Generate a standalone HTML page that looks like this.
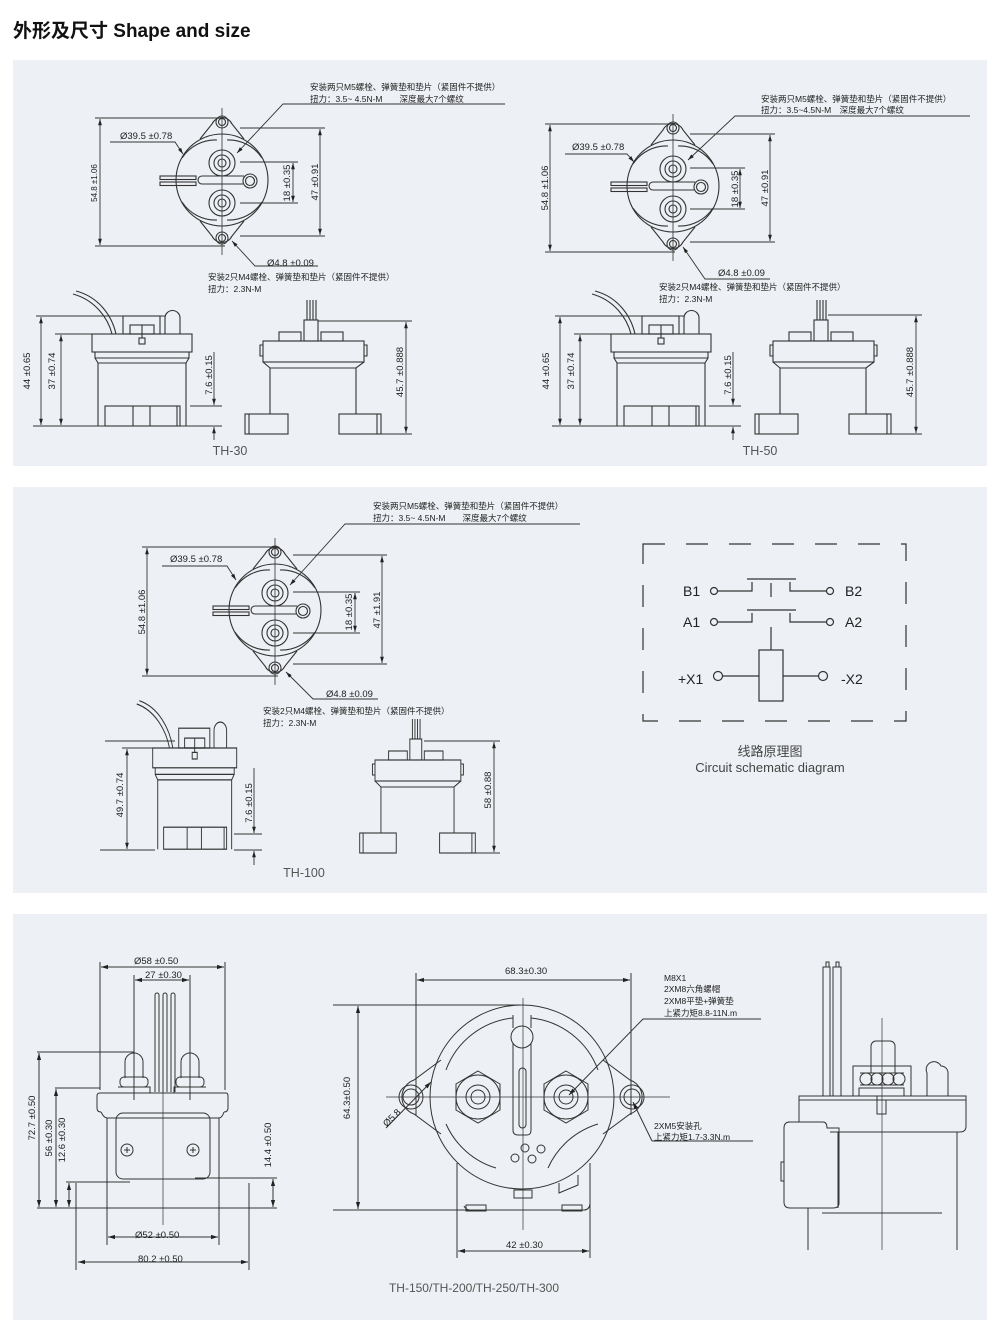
<!DOCTYPE html>
<html><head><meta charset="utf-8"><style>
html,body{margin:0;padding:0;background:#fff;}
body{width:1000px;height:1331px;position:relative;overflow:hidden;font-family:"Liberation Sans","Noto Sans CJK SC",sans-serif;}
svg{position:absolute;left:0;top:0;}
text{font-family:"Liberation Sans","Noto Sans CJK SC",sans-serif;fill:#222;}
.s{font-size:8.5px;}
.d{font-size:9.5px;}
</style></head><body>
<svg width="1000" height="1331" viewBox="0 0 1000 1331" xmlns="http://www.w3.org/2000/svg">
<defs>
<marker id="a" viewBox="0 0 10 10" refX="10" refY="5" markerWidth="7" markerHeight="7" orient="auto-start-reverse"><path d="M0,2 L10,5 L0,8 z" fill="#222"/></marker>
<g id="top" fill="none" stroke="#333" stroke-width="1.1">
  <circle r="46"/>
  <path d="M-40,-22 A40,40 0 0 1 -5,-40 M5,-40 A40,40 0 0 1 40,-22 M-40,22 A40,40 0 0 0 -5,40 M5,40 A40,40 0 0 0 40,22"/>
  <path d="M-22,-41 L-10,-56 A11,11 0 0 1 10,-56 L22,-41"/>
  <path d="M-22,41 L-10,56 A11,11 0 0 0 10,56 L22,41"/>
  <circle cy="-58" r="6"/><circle cy="-58" r="3.5"/>
  <circle cy="58" r="6"/><circle cy="58" r="3.5"/>
  <circle cy="-17" r="13"/><circle cy="-17" r="8"/><circle cy="-17" r="4"/>
  <circle cy="23" r="13"/><circle cy="23" r="8"/><circle cy="23" r="4"/>
  <path d="M-20,-4 H22 M-20,4 H21 M-20,-4 A4,4 0 0 0 -20,4"/>
  <circle cx="28" cy="1" r="7"/><circle cx="28" cy="1" r="4.5"/>
  <rect x="-62" y="-4" width="36" height="3.5"/><rect x="-62" y="2" width="36" height="3.5"/>
  <path d="M0,-72 V75" stroke-width="0.8"/>
</g>
<g id="sideL" fill="none" stroke="#333" stroke-width="1.1">
  <path d="M73,294 C95,300 108,318 112,334"/><path d="M76,291 C99,297 112,316 116,334"/>
  <rect x="123" y="316" width="37" height="18"/><rect x="130" y="325" width="24" height="9"/>
  <path d="M142,325 V338"/><rect x="139" y="338" width="6" height="6"/>
  <path d="M165,334 V318 A7.5,7.5 0 0 1 180,318 V334"/>
  <rect x="92" y="334" width="100" height="18"/>
  <path d="M95,352 V358 H189 V352 M95,358 L98,363 H186 L189,358"/>
  <path d="M98,363 V426 M186,363 V426"/>
  <rect x="105" y="406" width="75" height="20"/><path d="M133,406 V426 M150,406 V426 M177,406 V426"/>
</g>
<g id="sideR" fill="none" stroke="#333" stroke-width="1.1">
  <path d="M307,300 V320 M310,300 V320 M313,300 V320 M316,300 V320"/>
  <rect x="304" y="320" width="14" height="21"/>
  <rect x="279" y="332" width="22" height="9"/><rect x="321" y="332" width="22" height="9"/>
  <rect x="263" y="341" width="101" height="21"/>
  <path d="M263,345 H260 V356 H263 M364,345 H367 V356 H364"/>
  <path d="M263,362 L270,368 H356 L364,362"/>
  <path d="M270,368 V414 M356,368 V414"/>
  <rect x="245" y="414" width="43" height="20"/><rect x="339" y="414" width="42" height="20"/>
  <path d="M249,414 V434 M377,414 V434"/>
</g>
</defs>

<text x="13" y="37" style="font-size:19px;font-weight:bold;fill:#111">外形及尺寸 Shape and size</text>

<rect x="13" y="60" width="974" height="406" fill="#edf0f4"/>
<rect x="13" y="487" width="974" height="406" fill="#edf0f4"/>
<rect x="13" y="914" width="974" height="406" fill="#edf0f4"/>

<g stroke="#333" stroke-width="0.9" fill="none">
<!-- TH-30 top -->
<use href="#top" x="222" y="180"/>
<path d="M95,118 H225 M95,246 H225"/><path d="M100,119 V245" marker-start="url(#a)" marker-end="url(#a)"/>
<path d="M240,128 H325 M240,236 H325"/><path d="M320,129 V235" marker-start="url(#a)" marker-end="url(#a)"/>
<path d="M240,162 H298 M240,203 H298"/><path d="M293,163 V202" marker-start="url(#a)" marker-end="url(#a)"/>
<path d="M110,142 H175 L183,154" marker-end="url(#a)"/>
<path d="M505,104 H283 L237,153" marker-end="url(#a)"/>
<path d="M318,266 H255 L232,241" marker-end="url(#a)"/>
<!-- TH-30 sides -->
<use href="#sideL"/><use href="#sideR"/>
<path d="M36,316 H165 M55,334 H120 M33,426 H222 M190,406 H222"/>
<path d="M41,317 V425" marker-start="url(#a)" marker-end="url(#a)"/>
<path d="M61,335 V425" marker-start="url(#a)" marker-end="url(#a)"/>
<path d="M214,352 V405" marker-end="url(#a)"/><path d="M214,440 V427" marker-end="url(#a)"/>
<path d="M318,321 H412 M381,434 H412"/><path d="M406,322 V433" marker-start="url(#a)" marker-end="url(#a)"/>

<!-- TH-50 top -->
<use href="#top" x="673" y="186"/>
<path d="M545,124 H675 M545,252 H675"/><path d="M550,125 V251" marker-start="url(#a)" marker-end="url(#a)"/>
<path d="M690,134 H775 M690,242 H775"/><path d="M770,135 V241" marker-start="url(#a)" marker-end="url(#a)"/>
<path d="M690,168 H745 M690,209 H745"/><path d="M740,169 V208" marker-start="url(#a)" marker-end="url(#a)"/>
<path d="M565,154 H627 L634,162" marker-end="url(#a)"/>
<path d="M970,116 H735 L688,160" marker-end="url(#a)"/>
<path d="M770,279 H705 L683,247" marker-end="url(#a)"/>
<!-- TH-50 sides -->
<use href="#sideL" x="519"/><use href="#sideR" x="510"/>
<path d="M555,316 H684 M574,334 H639 M552,426 H741 M709,406 H741"/>
<path d="M560,317 V425" marker-start="url(#a)" marker-end="url(#a)"/>
<path d="M580,335 V425" marker-start="url(#a)" marker-end="url(#a)"/>
<path d="M733,352 V405" marker-end="url(#a)"/><path d="M733,440 V427" marker-end="url(#a)"/>
<path d="M828,315 H922 M891,434 H922"/><path d="M916,316 V433" marker-start="url(#a)" marker-end="url(#a)"/>

<!-- TH-100 top -->
<use href="#top" x="275" y="610"/>
<path d="M142,547 H278 M142,676 H278"/><path d="M147,548 V675" marker-start="url(#a)" marker-end="url(#a)"/>
<path d="M293,555 H387 M293,664 H387"/><path d="M382,556 V663" marker-start="url(#a)" marker-end="url(#a)"/>
<path d="M293,592 H360 M293,633 H360"/><path d="M355,593 V632" marker-start="url(#a)" marker-end="url(#a)"/>
<path d="M162,566 H227 L236,580" marker-end="url(#a)"/>
<path d="M580,524 H345 L290,585" marker-end="url(#a)"/>
<path d="M378,699 H313 L286,672" marker-end="url(#a)"/>
<!-- TH-100 sides -->
<g transform="translate(152.7,748) scale(0.84,1.1) translate(-92,-334)"><use href="#sideL"/></g>
<g transform="translate(375,760) scale(0.85,1) translate(-263,-341)"><use href="#sideR"/></g>
<path d="M105,741 H175 M122,748 H155 M100,850 H155 M234,834 H262 M234,850 H262"/>
<path d="M127,749 V849" marker-start="url(#a)" marker-end="url(#a)"/>
<path d="M254,768 V833" marker-end="url(#a)"/><path d="M254,865 V851" marker-end="url(#a)"/>
<path d="M424,741 H500 M470,853 H500"/><path d="M494,742 V852" marker-start="url(#a)" marker-end="url(#a)"/>

<!-- Circuit -->
<rect x="643" y="544" width="263" height="177" stroke-dasharray="22,21" stroke-width="1.2"/>
<g stroke-width="1.2">
<circle cx="714" cy="591" r="3.5"/><path d="M718,591 H752 V582 M747,579 H796 M771,583 V597 M790,582 V591 H826"/><circle cx="830" cy="591" r="3.5"/>
<circle cx="714" cy="622" r="3.5"/><path d="M718,622 H752 V613 M747,610 H796 M790,613 V622 H826"/><circle cx="830" cy="622" r="3.5"/>
<path d="M771,627 V650"/><rect x="759" y="650" width="24" height="51"/>
<path d="M723,676 H759 M783,676 H818"/><circle cx="718" cy="676" r="4.5"/><circle cx="823" cy="676" r="4.5"/>
</g>

<!-- Panel 3 left view -->
<g stroke-width="1">
<path d="M155,995 V1092 M159,995 V1092 M163,995 V1092 M167,995 V1092 M171,995 V1092 M175,995 V1092"/>
<path d="M155,995 A2,2 0 0 1 159,995 M163,995 A2,2 0 0 1 167,995 M171,995 A2,2 0 0 1 175,995"/>
<path d="M125,1078 V1062 A9,9 0 0 1 143,1062 V1078 M181,1078 V1062 A9,9 0 0 1 199,1062 V1078"/>
<rect x="120" y="1077" width="28" height="10" rx="4"/><rect x="176" y="1077" width="28" height="10" rx="4"/>
<path d="M134,1077 V1087 M190,1077 V1087"/>
<path d="M118,1087 H150 V1093 M116,1093 H152 M174,1093 V1087 H206 M172,1093 H208"/>
<path d="M100,1093 H226 Q228,1093 228,1096 V1108 Q228,1112 224,1112 M100,1093 Q97,1093 97,1096 V1108 Q97,1112 101,1112"/>
<path d="M101,1112 Q104,1118 107,1118 H219 Q222,1118 224,1112"/>
<path d="M107,1118 V1180 M219,1118 V1180"/>
<rect x="116" y="1113" width="94" height="66" rx="7"/>
<circle cx="127" cy="1150" r="6"/><circle cx="193" cy="1150" r="6"/>
<path d="M124,1150 H130 M127,1147 V1153 M190,1150 H196 M193,1147 V1153"/>
<path d="M163,1090 V1225" stroke-width="0.7"/>
<path d="M100,962 V1090 M225,962 V1090 M134,975 V1100 M190,975 V1100"/>
<path d="M101,967 H224" marker-start="url(#a)" marker-end="url(#a)"/>
<path d="M135,980 H189" marker-start="url(#a)" marker-end="url(#a)"/>
<path d="M37,1052 H134 M55,1088 H100 M66,1182 H130 M195,1178 H277 M37,1208 H277 M76,1183 V1270 M249,1183 V1270 M107,1180 V1245 M219,1180 V1245"/>
<path d="M39,1053 V1207" marker-start="url(#a)" marker-end="url(#a)"/>
<path d="M56,1089 V1207" marker-start="url(#a)" marker-end="url(#a)"/>
<path d="M69,1183 V1207" marker-start="url(#a)" marker-end="url(#a)"/>
<path d="M273,1179 V1207" marker-start="url(#a)" marker-end="url(#a)"/>
<path d="M108,1237 H218" marker-start="url(#a)" marker-end="url(#a)"/>
<path d="M78,1262 H248" marker-start="url(#a)" marker-end="url(#a)"/>
</g>

<!-- Panel 3 middle view -->
<g stroke-width="1">
<circle cx="522" cy="1097" r="92"/>
<path d="M513,1015 V1028 M531,1015 V1028"/>
<path d="M446,1070 A80,80 0 0 1 513,1018 M531,1018 A80,80 0 0 1 598,1070 M446,1124 A80,80 0 0 0 496,1168 M598,1124 A80,80 0 0 0 548,1168"/>
<circle cx="522" cy="1037" r="11"/>
<rect x="519" y="1068" width="7" height="60" rx="3.5"/>
<path d="M513,1043 V1130 Q513,1135 518,1135 H527 Q531,1135 531,1130 V1043"/>
<path d="M441,1060 L414,1080 A18,18 0 0 0 414,1114 L441,1134 M603,1060 L630,1080 A18,18 0 0 1 630,1114 L603,1134"/>
<circle cx="411" cy="1097" r="12"/><circle cx="411" cy="1097" r="8"/>
<circle cx="632" cy="1097" r="12"/><circle cx="632" cy="1097" r="8"/>
<polygon points="478,1071 500,1084 500,1110 478,1123 456,1110 456,1084"/>
<circle cx="478" cy="1097" r="22"/><circle cx="478" cy="1097" r="12"/><circle cx="478" cy="1097" r="7"/>
<polygon points="566,1071 588,1084 588,1110 566,1123 544,1110 544,1084"/>
<circle cx="566" cy="1097" r="22"/><circle cx="566" cy="1097" r="12"/><circle cx="566" cy="1097" r="7"/>
<circle cx="525" cy="1148" r="4"/><circle cx="541" cy="1149" r="4"/><circle cx="515" cy="1158" r="4"/><circle cx="532" cy="1159" r="4"/>
<path d="M457,1163 V1210 M590,1163 V1210 M464,1206 Q466,1210 470,1210 H584 Q589,1210 590,1204"/>
<rect x="466" y="1205" width="20" height="6"/><rect x="562" y="1205" width="20" height="6"/>
<rect x="514" y="1190" width="18" height="8"/><path d="M559,1183 V1193 L578,1185 V1175"/>
<path d="M386,1097 H670 M523,998 V1230" stroke-width="0.7"/>
<path d="M416,973 V1115 M631,973 V1115 M333,1005 H520 M333,1210 H470 M457,1210 V1258 M590,1210 V1258"/>
<path d="M417,980 H630" marker-start="url(#a)" marker-end="url(#a)"/>
<path d="M358,1006 V1209" marker-start="url(#a)" marker-end="url(#a)"/>
<path d="M458,1251 H589" marker-start="url(#a)" marker-end="url(#a)"/>
<path d="M386,1128 L431,1082" marker-end="url(#a)"/>
<path d="M761,1019 H643 L569,1095" marker-end="url(#a)"/>
<path d="M652,1141 H753 M652,1141 L633,1102" marker-end="url(#a)"/>
</g>

<!-- Panel 3 right view -->
<g stroke-width="1">
<path d="M823,1096 V967 H830 V1096 M833,1096 V967 H841 V1096 M826,967 V962 H829 V967 M836,967 V962 H839 V967"/>
<rect x="853" y="1066" width="58" height="30"/>
<path d="M871,1073 V1046 A5,5 0 0 1 876,1041 H890 A5,5 0 0 1 895,1046 V1073"/>
<path d="M860,1073 H904 M860,1085 H904"/>
<circle cx="866" cy="1079" r="6"/><circle cx="877" cy="1079" r="6"/><circle cx="888" cy="1079" r="6"/><circle cx="899" cy="1079" r="6"/>
<rect x="859" y="1088" width="45" height="8"/>
<path d="M927,1096 V1073 A7,7 0 0 1 941,1066 A7,7 0 0 1 948,1073 V1096"/>
<rect x="799" y="1096" width="167" height="4"/>
<path d="M799,1100 V1122 M966,1100 V1126 Q966,1132 960,1132 H830 M877,1096 V1114 H886 V1100"/>
<path d="M838,1132 V1208 M957,1132 V1250"/>
<path d="M788,1122 H823 Q827,1122 827,1128 H839 V1203 Q839,1208 833,1208 H790 Q784,1208 784,1202 V1128 Q784,1122 790,1122 M784,1162 H781 V1181 H784"/>
<path d="M808,1208 V1250 M822,1213 H942"/>
<path d="M882,1018 V1250" stroke-width="0.7"/>
</g>
</g>

<!-- Texts -->
<g class="s">
<text x="310" y="90">安装两只M5螺栓、弹簧垫和垫片（紧固件不提供）</text>
<text x="310" y="102">扭力：3.5~ 4.5N-M　　深度最大7个螺纹</text>
<text x="208" y="280">安装2只M4螺栓、弹簧垫和垫片（紧固件不提供）</text>
<text x="208" y="292">扭力：2.3N-M</text>
<text x="761" y="102">安装两只M5螺栓、弹簧垫和垫片（紧固件不提供）</text>
<text x="761" y="113">扭力：3.5~4.5N-M　深度最大7个螺纹</text>
<text x="659" y="290">安装2只M4螺栓、弹簧垫和垫片（紧固件不提供）</text>
<text x="659" y="302">扭力：2.3N-M</text>
<text x="373" y="509">安装两只M5螺栓、弹簧垫和垫片（紧固件不提供）</text>
<text x="373" y="521">扭力：3.5~ 4.5N-M　　深度最大7个螺纹</text>
<text x="263" y="714">安装2只M4螺栓、弹簧垫和垫片（紧固件不提供）</text>
<text x="263" y="726">扭力：2.3N-M</text>
<text x="664" y="981">M8X1</text>
<text x="664" y="992">2XM8六角螺帽</text>
<text x="664" y="1004">2XM8平垫+弹簧垫</text>
<text x="664" y="1016">上紧力矩8.8-11N.m</text>
<text x="654" y="1129">2XM5安装孔</text>
<text x="654" y="1140">上紧力矩1.7-3.3N.m</text>
</g>
<g class="d">
<text x="120" y="139">Ø39.5 ±0.78</text>
<text x="267" y="266">Ø4.8 ±0.09</text>
<text x="572" y="150">Ø39.5 ±0.78</text>
<text x="718" y="276">Ø4.8 ±0.09</text>
<text x="170" y="562">Ø39.5 ±0.78</text>
<text x="326" y="697">Ø4.8 ±0.09</text>
<text x="134" y="964">Ø58 ±0.50</text>
<text x="145" y="978">27 ±0.30</text>
<text x="135" y="1238">Ø52 ±0.50</text>
<text x="138" y="1262">80.2 ±0.50</text>
<text x="505" y="974">68.3±0.30</text>
<text x="506" y="1248">42 ±0.30</text>
<text transform="translate(97,183) rotate(-90)" text-anchor="middle" style="font-size:8px">54.8 ±1.06</text>
<text transform="translate(318,182) rotate(-90)" text-anchor="middle">47 ±0.91</text>
<text transform="translate(290,183) rotate(-90)" text-anchor="middle">18 ±0.35</text>
<text transform="translate(548,188) rotate(-90)" text-anchor="middle">54.8 ±1.06</text>
<text transform="translate(768,188) rotate(-90)" text-anchor="middle">47 ±0.91</text>
<text transform="translate(738,189) rotate(-90)" text-anchor="middle">18 ±0.35</text>
<text transform="translate(145,612) rotate(-90)" text-anchor="middle">54.8 ±1.06</text>
<text transform="translate(380,610) rotate(-90)" text-anchor="middle">47 ±1.91</text>
<text transform="translate(352,612) rotate(-90)" text-anchor="middle">18 ±0.35</text>
<text transform="translate(30,371) rotate(-90)" text-anchor="middle">44 ±0.65</text>
<text transform="translate(55,371) rotate(-90)" text-anchor="middle">37 ±0.74</text>
<text transform="translate(212,375) rotate(-90)" text-anchor="middle">7.6 ±0.15</text>
<text transform="translate(403,372) rotate(-90)" text-anchor="middle">45.7 ±0.888</text>
<text transform="translate(549,371) rotate(-90)" text-anchor="middle">44 ±0.65</text>
<text transform="translate(574,371) rotate(-90)" text-anchor="middle">37 ±0.74</text>
<text transform="translate(731,375) rotate(-90)" text-anchor="middle">7.6 ±0.15</text>
<text transform="translate(913,372) rotate(-90)" text-anchor="middle">45.7 ±0.888</text>
<text transform="translate(123,795) rotate(-90)" text-anchor="middle">49.7 ±0.74</text>
<text transform="translate(252,803) rotate(-90)" text-anchor="middle">7.6 ±0.15</text>
<text transform="translate(491,790) rotate(-90)" text-anchor="middle">58 ±0.88</text>
<text transform="translate(35,1118) rotate(-90)" text-anchor="middle">72.7 ±0.50</text>
<text transform="translate(52,1138) rotate(-90)" text-anchor="middle">56 ±0.30</text>
<text transform="translate(65,1140) rotate(-90)" text-anchor="middle">12.6 ±0.30</text>
<text transform="translate(271,1145) rotate(-90)" text-anchor="middle">14.4 ±0.50</text>
<text transform="translate(350,1098) rotate(-90)" text-anchor="middle">64.3±0.50</text>
<text transform="translate(394,1120) rotate(-45)" text-anchor="middle">Ø5.8</text>
</g>
<g style="font-size:13px">
<text x="230" y="455" text-anchor="middle" style="font-size:12.5px;fill:#555">TH-30</text>
<text x="760" y="455" text-anchor="middle" style="font-size:12.5px;fill:#555">TH-50</text>
<text x="304" y="877" text-anchor="middle" style="font-size:12.5px;fill:#555">TH-100</text>
<text x="474" y="1292" text-anchor="middle" style="font-size:12px;fill:#555">TH-150/TH-200/TH-250/TH-300</text>
<text x="683" y="596" style="font-size:14px">B1</text>
<text x="845" y="596" style="font-size:14px">B2</text>
<text x="683" y="627" style="font-size:14px">A1</text>
<text x="845" y="627" style="font-size:14px">A2</text>
<text x="678" y="684" style="font-size:14px">+X1</text>
<text x="841" y="684" style="font-size:14px">-X2</text>
<text x="770" y="756" text-anchor="middle" style="fill:#444">线路原理图</text>
<text x="770" y="772" text-anchor="middle" style="fill:#444">Circuit schematic diagram</text>
</g>
</svg>
</body></html>
